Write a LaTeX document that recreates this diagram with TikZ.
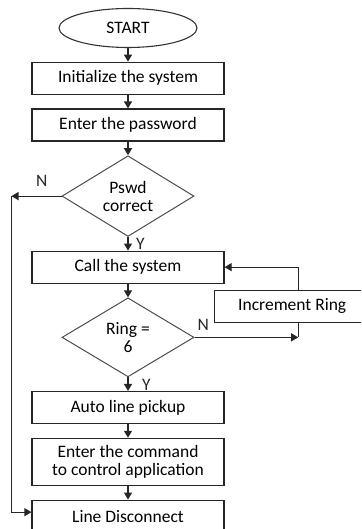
\documentclass[tikz,border=0pt]{standalone}
\usepackage{fontspec}
\setmainfont{Carlito}
\usetikzlibrary{arrows.meta,positioning,shapes.geometric}

\begin{document}
\begin{tikzpicture}[
  x=1pt,y=1pt,
  node distance=13.6pt,
  font=\fontsize{17.5}{18}\selectfont,
  flow/.style={-{Triangle[length=7pt,width=8pt]},draw=black!85,line width=1.2pt},
  link/.style={draw=black!85,line width=1.2pt},
  proc box/.style={draw=black!85,line width=1.2pt,minimum width=192pt,
    minimum height=32pt,align=center,inner sep=1pt},
  terminal/.style={ellipse,draw=black!80,line width=1.1pt,
    minimum width=138pt,minimum height=39pt,inner sep=0pt},
  decision/.style={diamond,draw=black!70,line width=1pt,align=center,
    minimum width=132pt,minimum height=79pt,inner sep=0pt},
  branch/.style={inner sep=0pt,text=black!85}
]
\clip (0,0) rectangle (361,-529);

% Main sequence, top to bottom.
\node[terminal] (start) at (128,-28) {START};
\node[proc box,below=of start] (init) {Initialize the system};
\node[proc box,below=of init] (password) {Enter the password};
\node[decision,below=of password] (pswd) {Pswd\\correct};
\node[proc box,below=of pswd] (call) {Call the system};
\node[decision,below=of call] (ring) {Ring =\\6};
\node[proc box,below=of ring] (pickup) {Auto line pickup};
\node[proc box,minimum height=47pt,below=of pickup] (command) {Enter the command\\to control application};
\node[proc box,below=of command] (disconnect) {Line Disconnect};

% Retry loop on the right.
\node[proc box,minimum width=156pt,anchor=north west] (incr)
  at ([xshift=-11pt,yshift=-6pt]call.south east) {Increment Ring};
\coordinate[right=6pt of incr.north] (loop top);
\coordinate[right=6pt of incr.south] (loop bottom);
\coordinate[left=50pt of pswd.west] (rail);

% Branch labels.
\node[branch,above left=9pt and 14pt of pswd.west] (pswd-n) {N};
\node[branch,below right=1pt and 8pt of pswd.south] (pswd-y) {Y};
\node[branch,above right=7pt and 3pt of ring.east] (ring-n) {N};
\node[branch,below right=2pt and 14pt of ring.south] (ring-y) {Y};

\draw[flow] (start) -- (init);
\draw[flow] (init) -- (password);
\draw[flow] (password) -- (pswd);
\draw[flow] (pswd) -- (call);
\draw[flow] (call) -- (ring);
\draw[flow] (ring) -- (pickup);
\draw[flow] (pickup) -- (command);
\draw[flow] (command) -- (disconnect);

\draw[flow] (loop top) |- (call.east);
\draw[flow] (ring.east) -- (ring.east -| loop bottom);
\draw[link] (loop bottom) -- (ring.east -| loop bottom);

\draw[flow] (pswd.west) -- (rail);
\draw[flow] (rail) |- ([yshift=4pt]disconnect.west);

\end{tikzpicture}
\end{document}
